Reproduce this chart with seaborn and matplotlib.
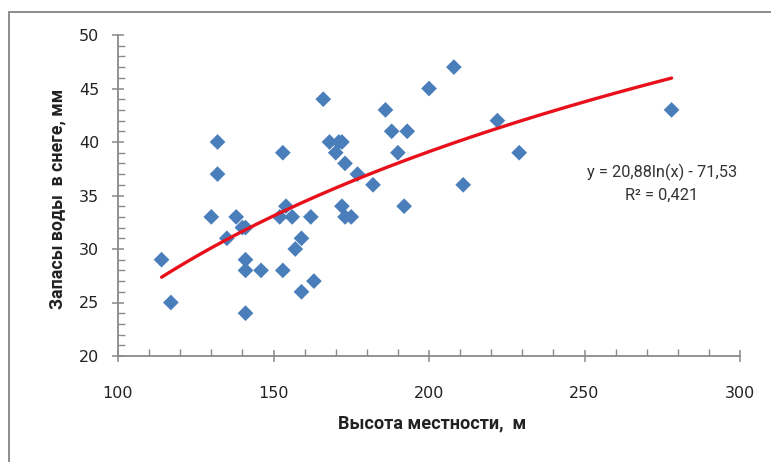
import numpy as np
import pandas as pd
import matplotlib
matplotlib.use("Agg")
import matplotlib.pyplot as plt
import matplotlib.patches as mpatches
from matplotlib.ticker import MultipleLocator
import seaborn as sns

# Data
elevation = [114, 117, 130, 132, 132, 135, 138, 140, 141, 141, 141, 141,
             146, 152, 153, 153, 154, 156, 157, 159, 159, 162, 163, 166,
             168, 170, 171, 172, 172, 173, 173, 175, 177, 182, 186, 188,
             190, 192, 193, 200, 208, 211, 222, 229, 278]
snow_water = [29, 25, 33, 40, 37, 31, 33, 32, 32, 29, 28, 24,
              28, 33, 39, 28, 34, 33, 30, 31, 26, 33, 27, 44,
              40, 39, 40, 40, 34, 38, 33, 33, 37, 36, 43, 41,
              39, 34, 41, 45, 47, 36, 42, 39, 43]

# Logarithmic trend line coefficients (as shown on the chart)
trend_a = 20.88
trend_b = -71.53
trend_label = "y = 20,88ln(x) - 71,53"
r2_label = "R\u00b2 = 0,421"

x_label = "Высота местности,  м"
y_label = "Запасы воды  в снеге, мм"

df = pd.DataFrame({"x": elevation, "y": snow_water})
xs = np.linspace(min(elevation), max(elevation), 200)
trend = pd.DataFrame({"x": xs, "y": trend_a * np.log(xs) + trend_b})

sns.set_style("ticks")
plt.rcParams["font.family"] = ["DejaVu Sans"]

fig = plt.figure(figsize=(7.71, 4.62), dpi=100)
ax = fig.add_axes([118 / 771, 1 - 356 / 462, 622 / 771, 321 / 462])

sns.scatterplot(data=df, x="x", y="y", ax=ax, marker="D", s=64,
                color="#4a7ebb", edgecolor="none", linewidth=0, zorder=3)
sns.lineplot(data=trend, x="x", y="y", ax=ax, color="#e8111b",
             linewidth=2.4, zorder=4)

ax.set_xlim(100, 300)
ax.set_ylim(20, 50)
ax.xaxis.set_major_locator(MultipleLocator(50))
ax.xaxis.set_minor_locator(MultipleLocator(10))
ax.yaxis.set_major_locator(MultipleLocator(5))
ax.yaxis.set_minor_locator(MultipleLocator(1))

gray = "#8a8a8a"
for side in ["top", "right"]:
    ax.spines[side].set_visible(False)
for side in ["left", "bottom"]:
    ax.spines[side].set_color(gray)
    ax.spines[side].set_linewidth(1.3)

ax.tick_params(axis="x", which="major", direction="inout", length=9,
               width=1.1, color=gray, pad=17, labelsize=11.5, labelcolor="#222222")
ax.tick_params(axis="y", which="major", direction="inout", length=9,
               width=1.1, color=gray, pad=9, labelsize=11.5, labelcolor="#222222")
ax.tick_params(which="minor", direction="in", length=5, width=1.0, color=gray)

ax.set_xlabel(x_label, fontsize=13.1, fontweight="bold", family="Roboto",
              color="#222222")
ax.set_ylabel(y_label, fontsize=12.8, fontweight="bold", family="Roboto",
              color="#222222")
ax.xaxis.set_label_coords(0.505, -0.209)
ax.xaxis.label.set_va("center")
ax.yaxis.set_label_coords(-0.098, 0.489)
ax.yaxis.label.set_va("center")

ax.text(274.9, 37.2, trend_label, ha="center", va="center", fontsize=11.8,
        family="Roboto", color="#333333")
ax.text(274.9, 35.05, r2_label, ha="center", va="center", fontsize=11.8,
        family="Roboto", color="#333333")

# chart area border
fig.patches.append(mpatches.Rectangle((9 / 771, -0.1), 1.2, 1 - 12.5 / 462 + 0.1,
                                      transform=fig.transFigure, fill=False,
                                      edgecolor="#8c8c8c", linewidth=1.4,
                                      zorder=0))

fig.savefig("out.png", dpi=100)
plt.close(fig)
